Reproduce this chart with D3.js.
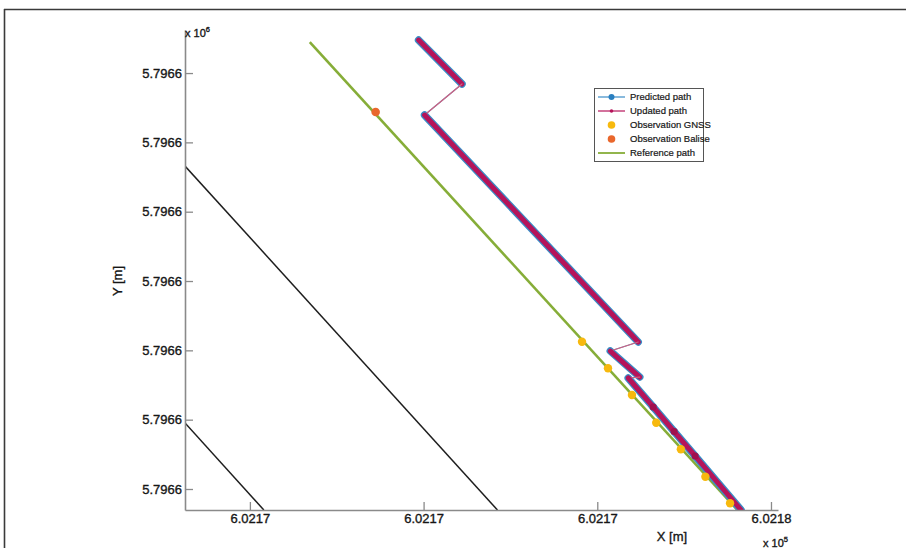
<!DOCTYPE html>
<html><head><meta charset="utf-8">
<script src="https://cdn.jsdelivr.net/npm/d3@7/dist/d3.min.js"></script>
<style>body{margin:0;background:#fff}svg{display:block}text{font-family:"Liberation Sans",Arial,sans-serif}</style>
</head><body>
<svg id="c" width="906" height="548"></svg>
<script>
// ---- data (metres) ----
const xTicks = [602167.5, 602170, 602172.5, 602175];
const xTickLabels = ["6.0217", "6.0217", "6.0217", "6.0218"];
const yTicks = [5796570, 5796571, 5796572, 5796573, 5796574, 5796575, 5796576];
const yTickLabels = ["5.7966", "5.7966", "5.7966", "5.7966", "5.7966", "5.7966", "5.7966"];
const xDomain = [602166.566, 602175.101];
const yDomain = [5796569.697, 5796576.621];

const predictedX = [602169.928, 602170.553, 602170.014, 602173.089, 602172.687, 602173.111, 602172.945, 602173.305, 602173.606, 602173.908, 602174.569];
const predictedY = [5796576.476, 5796575.842, 5796575.394, 5796572.120, 5796571.990, 5796571.615, 5796571.601, 5796571.183, 5796570.829, 5796570.476, 5796569.697];
const updatedX = predictedX.slice();
const updatedY = predictedY.slice();

const gnssX = [602172.280, 602172.654, 602172.999, 602173.348, 602173.703, 602174.056, 602174.411];
const gnssY = [5796572.125, 5796571.741, 5796571.356, 5796570.956, 5796570.573, 5796570.177, 5796569.794];
const baliseX = [602169.310];
const baliseY = [5796575.438];
const referenceX = [602168.362, 602174.515];
const referenceY = [5796576.447, 5796569.700];
const trackAX = [602166.566, 602171.063];
const trackAY = [5796574.659, 5796569.697];
const trackBX = [602166.566, 602167.701];
const trackBY = [5796570.952, 5796569.697];

const legendLabels = ["Predicted path", "Updated path", "Observation GNSS", "Observation Balise", "Reference path"];

// ---- drawing ----
const svg = d3.select("#c");
const L = 185, R = 778, T = 30, B = 510;
const x = d3.scaleLinear().domain(xDomain).range([L, R]);
const y = d3.scaleLinear().domain(yDomain).range([B, T]);
const ink = "#161616";

// outer frame
svg.append("line").attr("x1", 4).attr("x2", 906).attr("y1", 9.5).attr("y2", 9.5).attr("stroke", "#3a3a3a").attr("stroke-width", 1.6);
svg.append("line").attr("x1", 4.5).attr("x2", 4.5).attr("y1", 9).attr("y2", 548).attr("stroke", "#3a3a3a").attr("stroke-width", 1.6);

svg.append("defs").append("clipPath").attr("id", "clip").append("rect")
  .attr("x", L).attr("y", T).attr("width", R - L).attr("height", B - T);
const g = svg.append("g").attr("clip-path", "url(#clip)");

const zip = (xs, ys) => xs.map((v, i) => [v, ys[i]]);
const line = d3.line().x(d => x(d[0])).y(d => y(d[1]));

// black tracks
[[trackAX, trackAY], [trackBX, trackBY]].forEach(([xs, ys]) => {
  g.append("path").attr("d", line(zip(xs, ys))).attr("fill", "none").attr("stroke", "#1e1e1e").attr("stroke-width", 1.5);
});

// reference path
g.append("path").attr("d", line(zip(referenceX, referenceY))).attr("fill", "none").attr("stroke", "#86ad38").attr("stroke-width", 2.6);

// paths: segments moving backwards in X are correction jumps (thin)
function drawPath(xs, ys, color, wide, thinColor) {
  const pts = zip(xs, ys);
  for (let i = 0; i < pts.length - 1; i++) {
    const jump = pts[i + 1][0] < pts[i][0];
    g.append("path").attr("d", line([pts[i], pts[i + 1]])).attr("fill", "none")
      .attr("stroke", jump ? thinColor : color).attr("stroke-width", jump ? 1.2 : wide)
      .attr("stroke-linecap", "round");
  }
}
drawPath(predictedX, predictedY, "#3a8cc6", 7.5, "#5c9ccc");
drawPath(updatedX, updatedY, "#b5145a", 5, "#d0607f");
g.selectAll(".um").data(zip(updatedX, updatedY).slice(7, 10)).enter().append("circle")
  .attr("cx", d => x(d[0])).attr("cy", d => y(d[1])).attr("r", 3.5).attr("fill", "#a0104e");

// observations
g.selectAll(".gn").data(zip(gnssX, gnssY)).enter().append("circle")
  .attr("cx", d => x(d[0])).attr("cy", d => y(d[1])).attr("r", 4.2).attr("fill", "#f7b90e");
g.selectAll(".ba").data(zip(baliseX, baliseY)).enter().append("circle")
  .attr("cx", d => x(d[0])).attr("cy", d => y(d[1])).attr("r", 4.3).attr("fill", "#e9672c");

// axes
const axisColor = "#8a8a8a";
const xa = svg.append("g").attr("transform", `translate(0,${B})`)
  .call(d3.axisBottom(x).tickValues(xTicks).tickFormat((d, i) => xTickLabels[i]).tickSizeInner(-8).tickSizeOuter(0).tickPadding(4));
const ya = svg.append("g").attr("transform", `translate(${L},0)`)
  .call(d3.axisLeft(y).tickValues(yTicks).tickFormat((d, i) => yTickLabels[i]).tickSizeInner(-8).tickSizeOuter(0).tickPadding(3));
[xa, ya].forEach(a => {
  a.select(".domain").attr("stroke", axisColor).attr("stroke-width", 1.6);
  a.selectAll(".tick line").attr("stroke", axisColor).attr("stroke-width", 1.3);
  a.selectAll(".tick text").attr("fill", ink).attr("stroke", ink).attr("stroke-width", 0.35)
    .attr("font-size", 13).attr("font-family", "'Liberation Sans',Arial,sans-serif");
});

// axis labels and exponents
const lab = sel => sel.attr("fill", ink).attr("stroke", ink).attr("stroke-width", 0.35);
svg.append("text").attr("x", 672).attr("y", 541).attr("text-anchor", "middle").attr("font-size", 13).call(lab).text("X [m]");
svg.append("text").attr("transform", "translate(122,281) rotate(-90)").attr("text-anchor", "middle").attr("font-size", 13).call(lab).text("Y [m]");
const e6 = svg.append("text").attr("x", 185).attr("y", 37).attr("font-size", 11).call(lab);
e6.append("tspan").text("x 10");
e6.append("tspan").attr("dy", -5).attr("font-size", 7.5).text("6");
const e5 = svg.append("text").attr("x", 763).attr("y", 547).attr("font-size", 11).call(lab);
e5.append("tspan").text("x 10");
e5.append("tspan").attr("dy", -5).attr("font-size", 7.5).text("5");

// legend
const lg = svg.append("g");
lg.append("rect").attr("x", 594.5).attr("y", 88.5).attr("width", 109).attr("height", 73)
  .attr("fill", "#fff").attr("stroke", "#555").attr("stroke-width", 1);
const ly = i => 97 + i * 14;
legendLabels.forEach((t, i) => {
  lg.append("text").attr("x", 630).attr("y", ly(i) + 3.4).attr("font-size", 9.5)
    .attr("fill", ink).attr("stroke", ink).attr("stroke-width", 0.2).text(t);
});
lg.append("line").attr("x1", 598).attr("x2", 625).attr("y1", ly(0)).attr("y2", ly(0)).attr("stroke", "#3a8cc6").attr("stroke-width", 1.2);
lg.append("circle").attr("cx", 611.5).attr("cy", ly(0)).attr("r", 3).attr("fill", "#2a7fc0");
lg.append("line").attr("x1", 598).attr("x2", 625).attr("y1", ly(1)).attr("y2", ly(1)).attr("stroke", "#b5145a").attr("stroke-width", 1.2);
lg.append("circle").attr("cx", 611.5).attr("cy", ly(1)).attr("r", 1.8).attr("fill", "#b5145a");
lg.append("circle").attr("cx", 611.5).attr("cy", ly(2)).attr("r", 3.8).attr("fill", "#f7b90e");
lg.append("circle").attr("cx", 611.5).attr("cy", ly(3)).attr("r", 3.8).attr("fill", "#e9672c");
lg.append("line").attr("x1", 598).attr("x2", 625).attr("y1", ly(4)).attr("y2", ly(4)).attr("stroke", "#86ad38").attr("stroke-width", 1.8);
</script>
</body></html>
